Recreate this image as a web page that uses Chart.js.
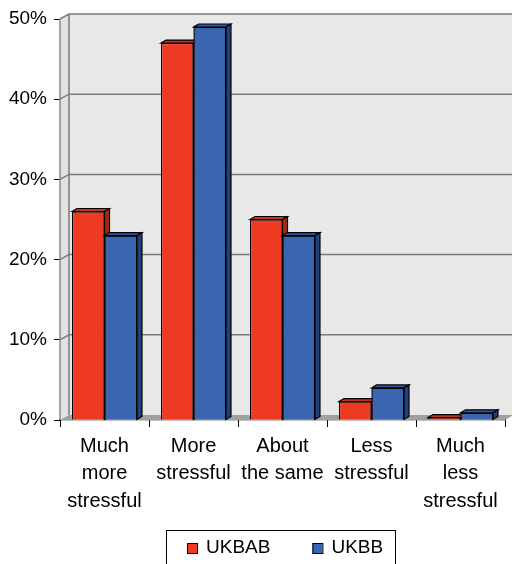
<!DOCTYPE html>
<html>
<head>
<meta charset="utf-8">
<script src="https://cdn.jsdelivr.net/npm/chart.js@4.4.1/dist/chart.umd.min.js"></script>
<style>
  html, body { margin: 0; padding: 0; background: #fff; }
  #wrap { width: 512px; height: 564px; }
</style>
</head>
<body>
<div id="wrap"><canvas id="c" width="512" height="564"></canvas></div>
<script>
const categories = [
  ['Much', 'more', 'stressful'],
  ['More', 'stressful'],
  ['About', 'the same'],
  ['Less', 'stressful'],
  ['Much', 'less', 'stressful']
];
const ukbab = [26, 47, 25, 2.3, 0.3];
const ukbb = [23, 49, 23, 4, 0.9];
const yTicks = [0, 10, 20, 30, 40, 50];

// 3d offsets: walls and bars
const WALL_DX = 9, WALL_DY = -5;
const BAR_DX = 5, BAR_DY = -3;

const faceColors = [
  { top: '#c9301b', side: '#a8280f' },
  { top: '#3058a0', side: '#22407a' }
];

const fake3d = {
  id: 'fake3d',
  beforeDatasetsDraw(chart) {
    const { ctx, chartArea: a, scales: { y } } = chart;
    const top = y.getPixelForValue(50), bot = y.getPixelForValue(0);
    ctx.save();
    // back wall
    ctx.fillStyle = '#e8e8e8';
    ctx.fillRect(a.left + WALL_DX, top + WALL_DY, chart.width, bot - top);
    // side wall
    ctx.fillStyle = '#e2e2e2';
    ctx.beginPath();
    ctx.moveTo(a.left, top);
    ctx.lineTo(a.left + WALL_DX, top + WALL_DY);
    ctx.lineTo(a.left + WALL_DX, bot + WALL_DY);
    ctx.lineTo(a.left, bot);
    ctx.closePath();
    ctx.fill();
    // floor
    ctx.fillStyle = '#a0a0a0';
    ctx.beginPath();
    ctx.moveTo(a.left, bot);
    ctx.lineTo(a.left + WALL_DX, bot + WALL_DY);
    ctx.lineTo(a.right + WALL_DX, bot + WALL_DY);
    ctx.lineTo(a.right, bot);
    ctx.closePath();
    ctx.fill();
    // gridlines on walls
    ctx.strokeStyle = '#7a7a7a';
    ctx.lineWidth = 1.5;
    yTicks.forEach(v => {
      if (v === 0) return;
      const py = y.getPixelForValue(v);
      ctx.beginPath();
      ctx.moveTo(a.left, py);
      ctx.lineTo(a.left + WALL_DX, py + WALL_DY);
      ctx.lineTo(chart.width, py + WALL_DY);
      ctx.stroke();
    });
    // wall edge
    ctx.beginPath();
    ctx.moveTo(a.left + WALL_DX, bot + WALL_DY);
    ctx.lineTo(a.left + WALL_DX, top + WALL_DY);
    ctx.stroke();
    // left front edge
    ctx.strokeStyle = '#8a8a8a';
    ctx.lineWidth = 1.5;
    ctx.beginPath();
    ctx.moveTo(a.left, top);
    ctx.lineTo(a.left, bot);
    ctx.stroke();
    ctx.restore();
  },
  afterDatasetsDraw(chart) {
    const { ctx } = chart;
    ctx.save();
    ctx.lineWidth = 1.2;
    ctx.strokeStyle = '#000';
    chart.data.datasets.forEach((ds, di) => {
      const meta = chart.getDatasetMeta(di);
      meta.data.forEach(bar => {
        if (di > 0) bar.draw(ctx);
        const { x, y, base, width } = bar.getProps(['x', 'y', 'base', 'width'], true);
        const l = x - width / 2, r = x + width / 2;
        // top face
        ctx.fillStyle = faceColors[di].top;
        ctx.beginPath();
        ctx.moveTo(l, y);
        ctx.lineTo(l + BAR_DX, y + BAR_DY);
        ctx.lineTo(r + BAR_DX, y + BAR_DY);
        ctx.lineTo(r, y);
        ctx.closePath();
        ctx.fill();
        ctx.stroke();
        // side face
        ctx.fillStyle = faceColors[di].side;
        ctx.beginPath();
        ctx.moveTo(r, y);
        ctx.lineTo(r + BAR_DX, y + BAR_DY);
        ctx.lineTo(r + BAR_DX, base + BAR_DY);
        ctx.lineTo(r, base);
        ctx.closePath();
        ctx.fill();
        ctx.stroke();
      });
    });
    ctx.restore();
  },
  afterDraw(chart) {
    // boxed legend under the chart
    const { ctx } = chart;
    ctx.save();
    ctx.strokeStyle = '#000';
    ctx.lineWidth = 1;
    ctx.strokeRect(166.5, 530.5, 229, 40);
    ctx.font = '19px "Liberation Sans"';
    ctx.textBaseline = 'middle';
    let x = 187;
    chart.data.datasets.forEach(ds => {
      ctx.fillStyle = ds.backgroundColor;
      ctx.fillRect(x, 543, 10, 11);
      ctx.strokeRect(x + 0.5, 543.5, 10, 10);
      ctx.fillStyle = '#000';
      ctx.fillText(ds.label, x + 19, 548);
      x += 19 + ctx.measureText(ds.label).width + 42;
    });
    ctx.restore();
  }
};

new Chart(document.getElementById('c'), {
  type: 'bar',
  data: {
    labels: categories,
    datasets: [
      { label: 'UKBAB', data: ukbab, backgroundColor: '#ee3a22', borderColor: '#000', borderWidth: 1.2 },
      { label: 'UKBB', data: ukbb, backgroundColor: '#3a65b0', borderColor: '#000', borderWidth: 1.2 }
    ]
  },
  plugins: [fake3d],
  options: {
    responsive: false,
    animation: false,
    events: [],
    layout: { padding: { top: 19, right: 7, left: 0, bottom: 44 } },
    datasets: { bar: { categoryPercentage: 0.73, barPercentage: 1 } },
    scales: {
      x: {
        grid: { display: true, drawOnChartArea: false, offset: true, tickLength: 7, color: '#000' },
        border: { display: true, color: '#000', width: 1.2 },
        ticks: {
          color: '#000', padding: 6, maxRotation: 0, autoSkip: false,
          font: { family: 'Liberation Sans', size: 20, lineHeight: 1.36 }
        },
        afterFit(scale) { scale.height = 100; }
      },
      y: {
        min: 0, max: 50,
        grid: { display: true, drawOnChartArea: false, tickLength: 6, color: '#000' },
        border: { display: false },
        ticks: {
          stepSize: 10, color: '#000', padding: 7,
          font: { family: 'Liberation Sans', size: 19 },
          callback: v => v + '%'
        },
        afterFit(scale) { scale.width = 60; }
      }
    },
    plugins: {
      tooltip: { enabled: false },
      legend: { display: false }
    }
  }
});
</script>
</body>
</html>
